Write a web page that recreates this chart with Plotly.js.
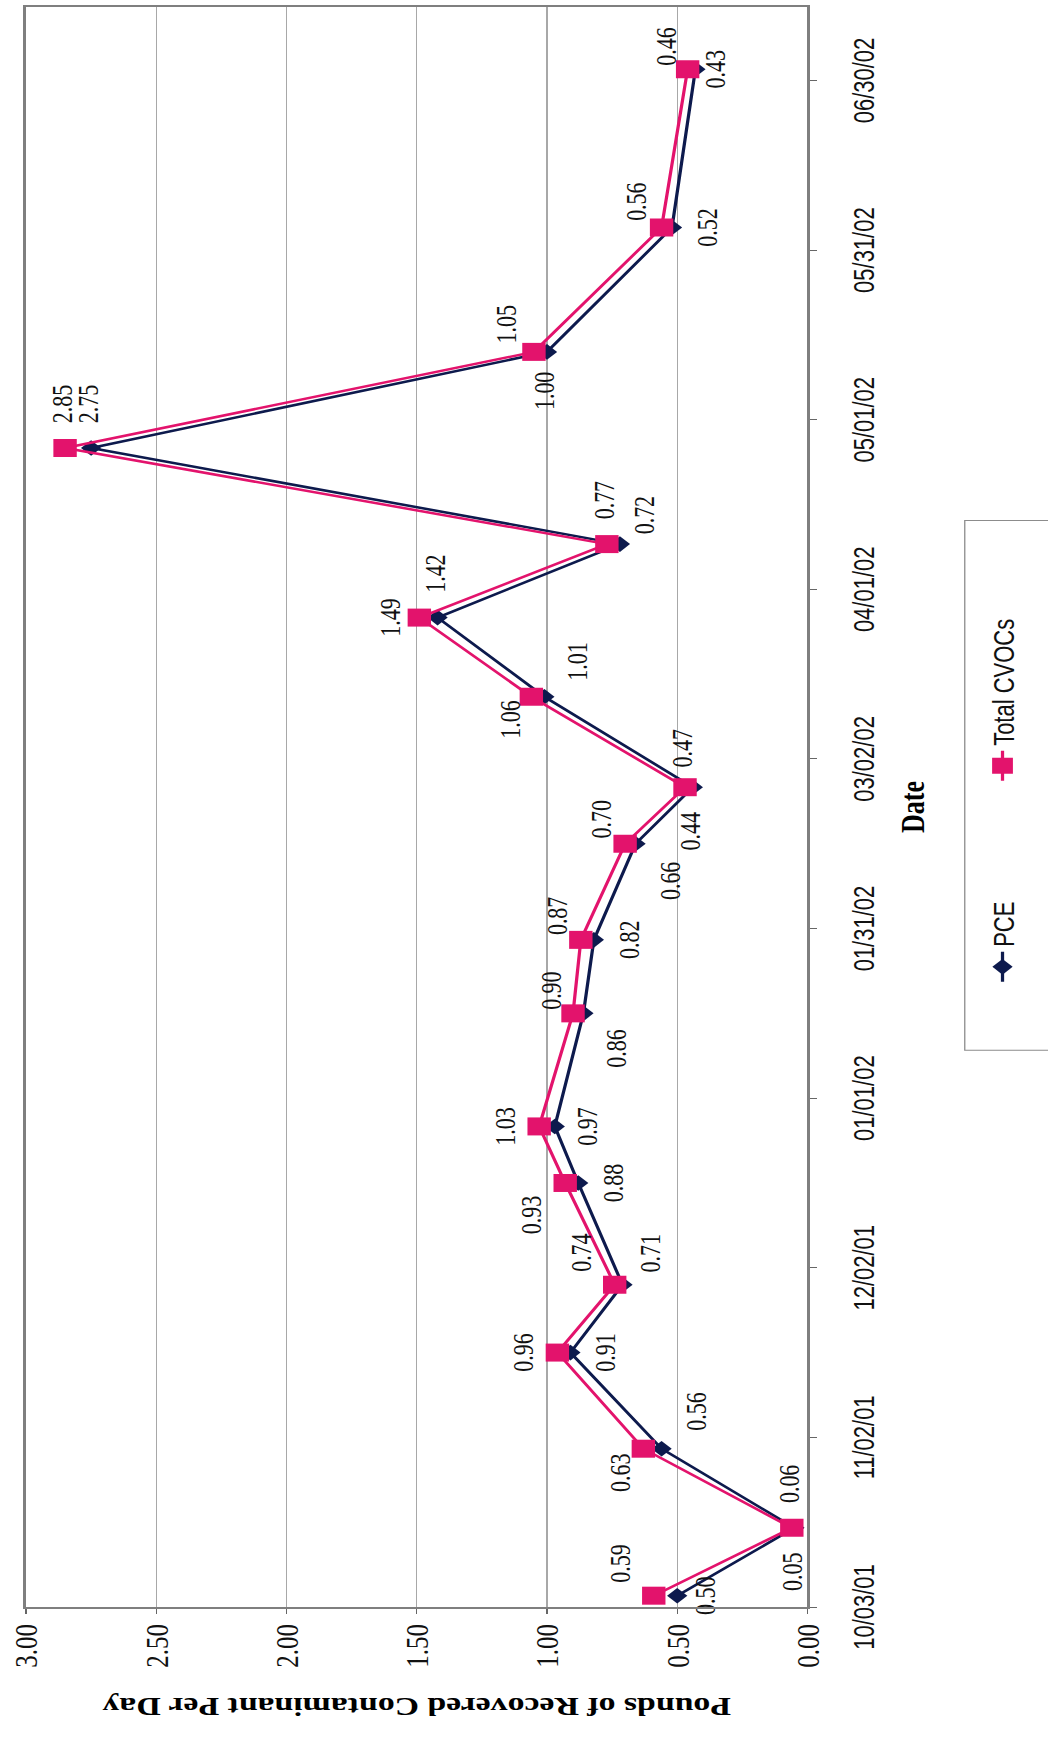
<!DOCTYPE html>
<html>
<head>
<meta charset="utf-8">
<script src="https://cdn.plot.ly/plotly-3.0.1.min.js"></script>
<style>
  html, body { margin: 0; padding: 0; background: #ffffff; }
  body { width: 1048px; height: 1743px; overflow: hidden; position: relative; }
  #chart {
    position: absolute; left: 0; top: 0;
    width: 1743px; height: 806px;
    transform-origin: 0 0;
    transform: translateY(1743px) rotate(-90deg) scale(1, 1.30025);
  }
</style>
</head>
<body>
<div id="chart"></div>
<script>
// ---- data ----
const dates = ['2001-10-05','2001-10-17','2001-10-31','2001-11-17','2001-11-29','2001-12-17',
               '2001-12-27','2002-01-16','2002-01-29','2002-02-15','2002-02-25','2002-03-13',
               '2002-03-27','2002-04-09','2002-04-26','2002-05-13','2002-06-04','2002-07-02'];
const pce   = [0.50, 0.05, 0.56, 0.91, 0.71, 0.88, 0.97, 0.86, 0.82, 0.66, 0.44, 1.01,
               1.42, 0.72, 2.75, 1.00, 0.52, 0.43];
const total = [0.59, 0.06, 0.63, 0.96, 0.74, 0.93, 1.03, 0.90, 0.87, 0.70, 0.47, 1.06,
               1.49, 0.77, 2.85, 1.05, 0.56, 0.46];
const seriesNames = ['PCE', 'Total CVOCs'];
const xTitle = 'Date';
const yTitle = 'Pounds of Recovered Contaminant Per Day';

// ---- label placement (style only) ----
const pcePos = ['bottom center','middle left','bottom right','bottom center','bottom right','bottom center',
                'bottom center','bottom left','bottom center','bottom left','middle left','bottom right',
                'middle right','bottom right','middle right','middle left','bottom center','bottom center'];
const totalPos = ['top right','middle right','top left','top center','top right','top left',
                  'top center','top right','top right','top right','middle right','top left',
                  'top center','middle right','middle right','top right','top right','top right'];
// spacer sizes: distance of each label from its point
const pceGap   = [18, 38, 27, 27, 18, 27, 24, 24, 27, 27, 38, 24, 38, 14, 38, 30, 27, 8];
const totalGap = [19, 38, 6, 19, 19, 19, 19, 4, 6, 7, 30, 4, 13, 38, 38, 12, 9, 4];

const SERIF = 'Liberation Serif, "Times New Roman", serif';
const SANS = 'Liberation Sans, Arial, sans-serif';
const NAVY = '#0d1a4d';
const PINK = '#e3136c';
const DAY = 86400000;

const traces = [
  { x: dates, y: pce, name: seriesNames[0], type: 'scatter', mode: 'lines+markers',
    line: { color: NAVY, width: 2.5 },
    marker: { symbol: 'diamond', size: 12, color: NAVY } },
  { x: dates, y: total, name: seriesNames[1], type: 'scatter', mode: 'lines+markers',
    line: { color: PINK, width: 2.5 },
    marker: { symbol: 'square', size: 18, color: PINK } },
  { x: dates, y: pce, type: 'scatter', mode: 'markers+text', showlegend: false, hoverinfo: 'skip',
    marker: { size: pceGap, opacity: 0, color: '#ffffff' },
    text: pce.map(v => v.toFixed(2)), textposition: pcePos, cliponaxis: false,
    textfont: { family: SERIF, size: 22, color: '#111' } },
  { x: dates, y: total, type: 'scatter', mode: 'markers+text', showlegend: false, hoverinfo: 'skip',
    marker: { size: totalGap, opacity: 0, color: '#ffffff' },
    text: total.map(v => v.toFixed(2)), textposition: totalPos, cliponaxis: false,
    textfont: { family: SERIF, size: 22, color: '#111' } }
];

const layout = {
  width: 1743, height: 806,
  margin: { l: 136, r: 7, t: 20, b: 185 },
  paper_bgcolor: '#ffffff', plot_bgcolor: '#ffffff',
  showlegend: true,
  xaxis: {
    type: 'date', range: ['2001-10-03', '2002-07-13'],
    tick0: '2001-10-03', dtick: 30 * DAY, tickformat: '%m/%d/%y',
    ticks: 'outside', ticklen: 5, tickcolor: '#666', tickwidth: 1,
    ticklabelstandoff: 18,
    showgrid: false, zeroline: false,
    showline: true, mirror: true, linecolor: '#7f7f7f', linewidth: 2,
    tickfont: { family: SANS, size: 22, color: '#111' },
    title: { text: xTitle, font: { family: SERIF, size: 26, color: '#000', weight: 'bold' }, standoff: 16 }
  },
  yaxis: {
    range: [0, 3], dtick: 0.5, tick0: 0, tickformat: '.2f',
    ticks: 'outside', ticklen: 5, tickcolor: '#666', tickwidth: 1,
    ticklabelstandoff: 5,
    showgrid: true, gridcolor: '#a8a8a8', gridwidth: 1, zeroline: false,
    showline: true, mirror: true, linecolor: '#7f7f7f', linewidth: 2,
    tickfont: { family: SERIF, size: 25, color: '#111' },
    title: { text: yTitle, font: { family: SERIF, size: 26, color: '#000', weight: 'bold' }, standoff: 22 }
  },
  legend: {
    orientation: 'h', x: 0.3876, xanchor: 'left', y: -0.215, yanchor: 'top',
    borderwidth: 0, bgcolor: 'rgba(0,0,0,0)',
    font: { family: SANS, size: 22, color: '#111' },
    entrywidth: 156, entrywidthmode: 'pixels'
  },
  shapes: [
    { type: 'rect', xref: 'paper', yref: 'paper', x0: 0.348, x1: 0.679, y0: -0.2013, y1: -0.40,
      line: { color: '#8c8c8c', width: 1 }, fillcolor: 'rgba(0,0,0,0)', layer: 'below' }
  ]
};

Plotly.newPlot('chart', traces, layout, { staticPlot: true, displayModeBar: false });
</script>
</body>
</html>
